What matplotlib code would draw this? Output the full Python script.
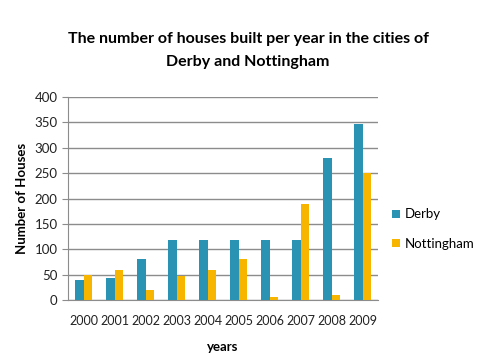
import numpy as np
from matplotlib import pyplot as plt

years = ['2000', '2001', '2002', '2003', '2004', '2005', '2006', '2007', '2008', '2009']
derby = [40, 43, 80, 118, 118, 118, 118, 118, 280, 347]
nottingham = [50, 60, 20, 48, 60, 80, 5, 190, 10, 250]

plt.rcParams['font.family'] = ['Lato', 'DejaVu Sans']

fig = plt.figure(figsize=(4.82, 3.58), dpi=100)
ax = fig.add_axes([68/482, 1 - 300/358, 310/482, 203/358])

x = np.arange(len(years))
w = 0.29
ax.bar(x - w/2, derby, w, color='#2a93b3', label='Derby', zorder=3)
ax.bar(x + w/2, nottingham, w, color='#f7b500', label='Nottingham', zorder=3)

ax.set_xlim(-0.5, len(years) - 0.5)
ax.set_ylim(0, 400)
ax.set_yticks(range(0, 401, 50))
ax.set_xticks(x)
ax.set_xticklabels(years)
ax.yaxis.grid(True, color='#8c8c8c', linewidth=1, zorder=0)
ax.tick_params(axis='x', length=0, pad=11, labelsize=9, colors='#222222')
ax.tick_params(axis='y', length=4, color='#8c8c8c', labelsize=9.5, colors='#222222')
for s in ['top', 'right']:
    ax.spines[s].set_visible(False)
ax.spines['left'].set_color('#8c8c8c')
ax.spines['bottom'].set_color('#8c8c8c')

ax.set_ylabel('Number of Houses', fontsize=9.5, fontweight='bold', labelpad=5)
ax.set_xlabel('years', fontsize=9.5, fontweight='bold', labelpad=10)

fig.text(248/482, 1 - 39/358, 'The number of houses built per year in the cities of',
         ha='center', va='center', fontsize=11.5, fontweight='bold')
fig.text(248/482, 1 - 62/358, 'Derby and Nottingham',
         ha='center', va='center', fontsize=11.5, fontweight='bold')

fig.legend(loc='center left', bbox_to_anchor=(380/482, 1 - 229/358), frameon=False,
           fontsize=9.5, handlelength=0.6, handleheight=0.6, labelspacing=1.3,
           handletextpad=0.4)

plt.savefig('out.png', dpi=100)
